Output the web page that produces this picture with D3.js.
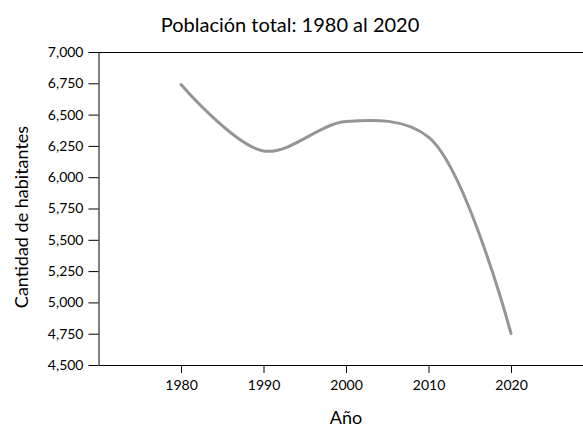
<!DOCTYPE html>
<html>
<head>
<meta charset="utf-8">
<script src="https://cdn.jsdelivr.net/npm/d3@7"></script>
<style>
  html, body { margin: 0; padding: 0; background: #fff; }
  svg { display: block; font-family: "Lato", "Open Sans", sans-serif; }
</style>
</head>
<body>
<svg id="chart" width="583" height="427"></svg>
<script>
const years = [1980, 1990, 2000, 2010, 2020];
const population = [6740, 6210, 6445, 6320, 4752];
const yTicks = [4500, 4750, 5000, 5250, 5500, 5750, 6000, 6250, 6500, 6750, 7000];
const xTicks = [1980, 1990, 2000, 2010, 2020];
const title = "Población total: 1980 al 2020";
const xTitle = "Año";
const yTitle = "Cantidad de habitantes";

(function () {
const svg = d3.select("#chart");
const mLeft = 98.5, mTop = 52, mBottom = 365, mRight = 593.5;

const x = d3.scaleLinear().domain([1970, 2030]).range([mLeft, mRight]);
const y = d3.scaleLinear().domain([4500, 7000]).range([mBottom, mTop]);

// top border
svg.append("line").attr("x1", mLeft).attr("x2", 583).attr("y1", mTop + 0.5).attr("y2", mTop + 0.5)
  .attr("stroke", "#000").attr("stroke-width", 1);

const fmt = d3.format(",");
const yAxis = svg.append("g").attr("transform", `translate(${mLeft},0)`)
  .call(d3.axisLeft(y).tickValues(yTicks).tickFormat(fmt).tickSize(10).tickPadding(5).tickSizeOuter(0));
const xAxis = svg.append("g").attr("transform", `translate(0,${mBottom})`)
  .call(d3.axisBottom(x).tickValues(xTicks).tickFormat(d3.format("d")).tickSize(8).tickPadding(7).tickSizeOuter(0));

[yAxis, xAxis].forEach(g => {
  g.selectAll("text").attr("font-size", 14).attr("fill", "#000").attr("font-family", "Lato, sans-serif");
  g.selectAll("line,path").attr("stroke", "#000");
});

const line = d3.line()
  .x((d, i) => x(years[i]))
  .y(d => y(d))
  .curve(d3.curveCatmullRom.alpha(0.5));

svg.append("path").datum(population)
  .attr("d", line)
  .attr("fill", "none")
  .attr("stroke", "#959595")
  .attr("stroke-width", 3)
  .attr("stroke-linecap", "round");

svg.append("text").attr("x", 290).attr("y", 32).attr("text-anchor", "middle")
  .attr("font-size", 20).attr("fill", "#000").text(title);
svg.append("text").attr("x", 346).attr("y", 424).attr("text-anchor", "middle")
  .attr("font-size", 18).attr("fill", "#000").text(xTitle);
svg.append("text").attr("transform", "translate(28,217) rotate(-90)").attr("text-anchor", "middle")
  .attr("font-size", 18).attr("fill", "#000").text(yTitle);
})();
</script>
</body>
</html>
